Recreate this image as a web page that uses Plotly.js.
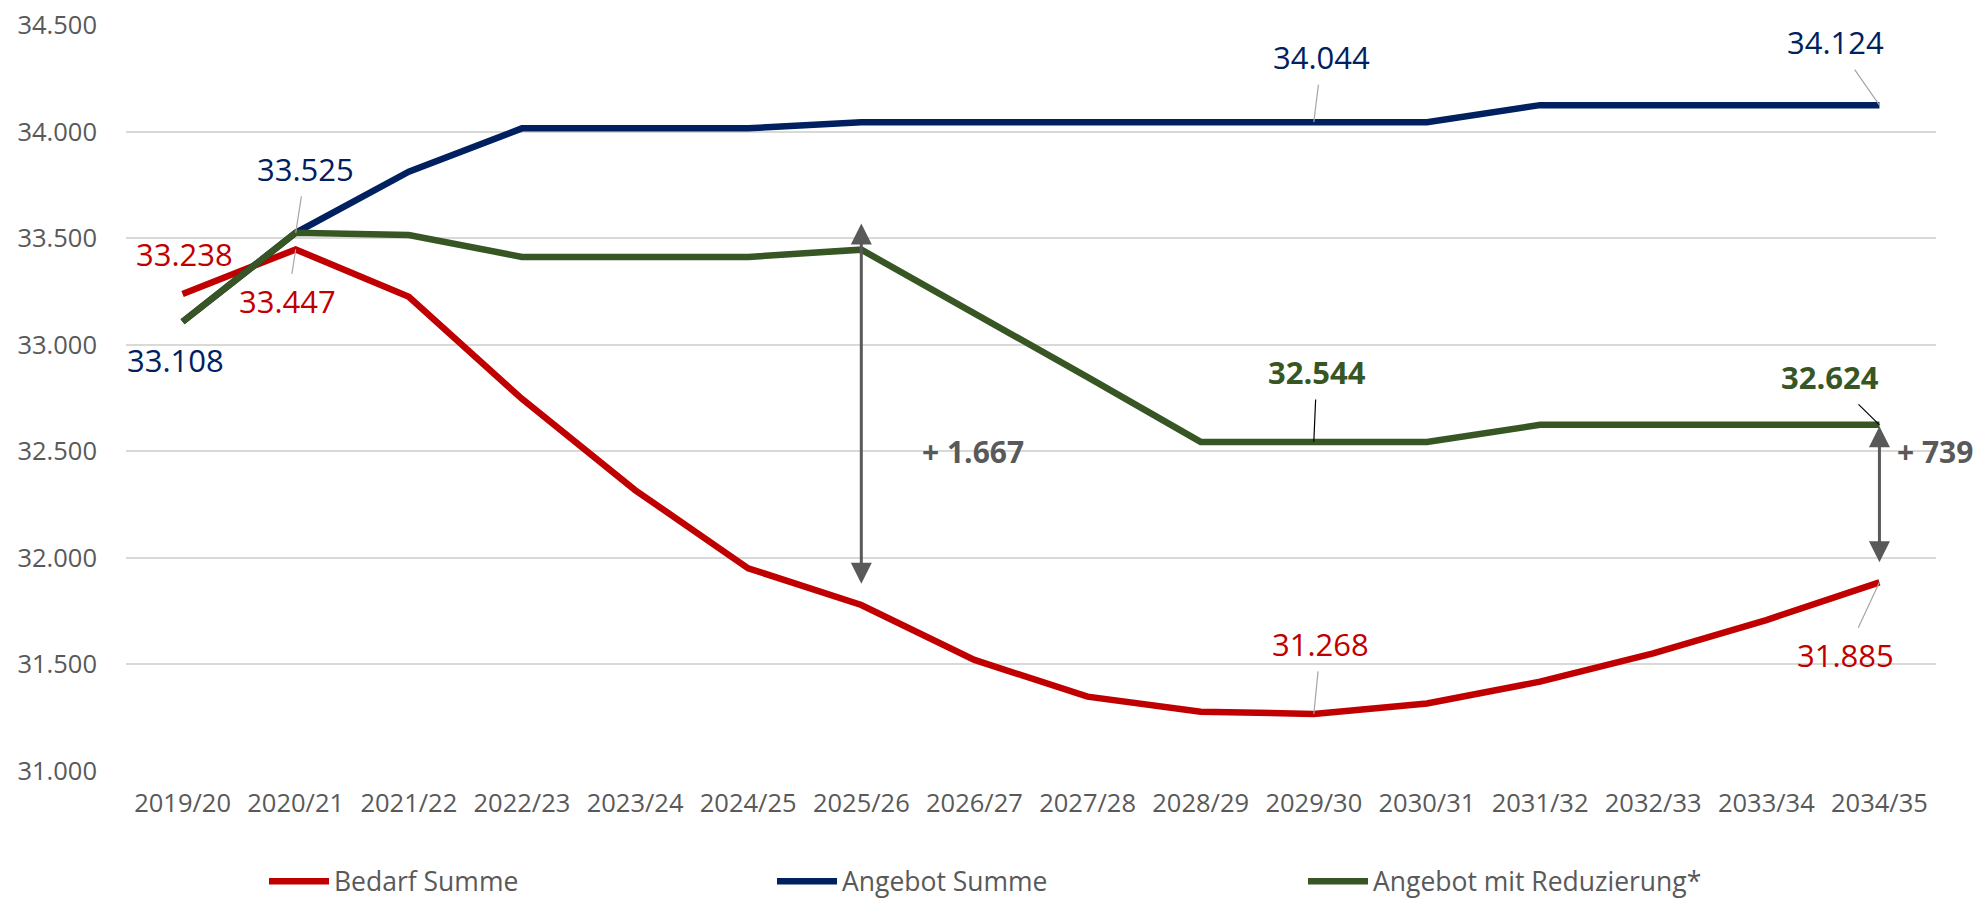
<!DOCTYPE html>
<html>
<head>
<meta charset="utf-8">
<script src="https://cdn.plot.ly/plotly-3.0.1.min.js"></script>
<style>
  html, body { margin: 0; padding: 0; background: #fff; }
  #chart { width: 1979px; height: 901px; }
</style>
</head>
<body>
<div id="chart"></div>
<script>
// school years on the x axis
var years = ['2019/20', '2020/21', '2021/22', '2022/23', '2023/24', '2024/25', '2025/26', '2026/27',
             '2027/28', '2028/29', '2029/30', '2030/31', '2031/32', '2032/33', '2033/34', '2034/35'];

// values (labelled points are exact)
var bedarf = [33238, 33447, 33225, 32746, 32318, 31951, 31779, 31521,
              31349, 31278, 31268, 31317, 31419, 31552, 31708, 31885];
var angebot = [33108, 33525, 33812, 34015, 34015, 34015, 34044, 34044,
               34044, 34044, 34044, 34044, 34124, 34124, 34124, 34124];
var reduziert = [33108, 33525, 33515, 33412, 33412, 33412, 33446, 33150,
                 32848, 32544, 32544, 32544, 32624, 32624, 32624, 32624];

var seriesNames = ['Bedarf Summe', 'Angebot Summe', 'Angebot mit Reduzierung*'];
var colors = ['#C00000', '#002060', '#375623'];
var yTicks = [31000, 31500, 32000, 32500, 33000, 33500, 34000, 34500];

var FONT = 'Open Sans, Liberation Sans, sans-serif';
var GREY = '#595959';

// german thousands separator
function fmt(v) {
    return String(v).replace(/\B(?=(\d{3})+(?!\d))/g, '.');
}

var allSeries = [bedarf, angebot, reduziert];
var data = allSeries.map(function (s, k) {
    return {
        x: years,
        y: s,
        name: seriesNames[k],
        type: 'scatter',
        mode: 'lines',
        line: {color: colors[k], width: 6.5},
        legend: k === 0 ? 'legend' : 'legend' + (k + 1),
        hoverinfo: 'x+y'
    };
});

// label with a thin leader line back to the point
function leader(series, i, color, ax, ay, lineColor, bold) {
    return {
        x: years[i], y: series[i], xref: 'x', yref: 'y',
        text: bold ? '<b>' + fmt(series[i]) + '</b>' : fmt(series[i]),
        showarrow: true, arrowhead: 0, arrowwidth: 1.2,
        arrowcolor: lineColor, ax: ax, ay: ay, standoff: 0, borderpad: 6,
        font: {family: FONT, size: 31, color: color}
    };
}

// plain label sitting next to the point
function plain(series, i, color, dx, dy) {
    return {
        x: years[i], y: series[i], xref: 'x', yref: 'y',
        text: fmt(series[i]), showarrow: false, xshift: dx, yshift: dy,
        font: {family: FONT, size: 31, color: color}
    };
}

var annotations = [
    plain(bedarf, 0, colors[0], 2, 40),
    plain(angebot, 0, colors[1], -7, -38),
    leader(angebot, 1, colors[1], 10, -64, '#A6A6A6'),
    leader(bedarf, 1, colors[0], -8, 52, '#A6A6A6'),
    leader(angebot, 10, colors[1], 8, -65, '#A6A6A6'),
    leader(angebot, 15, colors[1], -44, -63, '#A6A6A6'),
    leader(reduziert, 10, colors[2], 3, -70, '#000000', true),
    leader(reduziert, 15, colors[2], -49, -48, '#000000', true),
    leader(bedarf, 10, colors[0], 7, -70, '#A6A6A6'),
    leader(bedarf, 15, colors[0], -34, 73, '#A6A6A6'),

    // gap arrows
    {
        x: years[6], y: bedarf[6] + 100, ax: years[6], ay: reduziert[6] + 130,
        xref: 'x', yref: 'y', axref: 'x', ayref: 'y', text: '',
        showarrow: true, arrowside: 'end+start', arrowhead: 2, arrowsize: 1.4,
        arrowwidth: 3, arrowcolor: GREY
    },
    {
        x: years[15], y: bedarf[15], ax: years[15], ay: reduziert[15],
        xref: 'x', yref: 'y', axref: 'x', ayref: 'y', text: '',
        showarrow: true, arrowside: 'end+start', arrowhead: 2, arrowsize: 1.4,
        arrowwidth: 3, arrowcolor: GREY, standoff: 20
    },
    {
        x: years[6], y: 32500, xref: 'x', yref: 'y', xanchor: 'center',
        xshift: 112, showarrow: false,
        text: '<b>+ ' + fmt(reduziert[6] - bedarf[6]) + '</b>',
        font: {family: FONT, size: 30, color: GREY}
    },
    {
        x: years[15], y: 32500, xref: 'x', yref: 'y', xanchor: 'left',
        xshift: 16, showarrow: false,
        text: '<b>+ ' + fmt(reduziert[15] - bedarf[15]) + '</b>',
        font: {family: FONT, size: 30, color: GREY}
    }
];

function legendAt(xpx) {
    return {
        orientation: 'h', x: (xpx - 126) / 1810, xanchor: 'left',
        y: -0.148, yanchor: 'middle', itemwidth: 60,
        font: {family: FONT, size: 26.5, color: GREY},
        bgcolor: 'rgba(0,0,0,0)'
    };
}

var layout = {
    width: 1979,
    height: 901,
    margin: {l: 126, r: 43, t: 25, b: 130, autoexpand: false},
    separators: ',.',
    paper_bgcolor: '#ffffff',
    plot_bgcolor: '#ffffff',
    showlegend: true,
    legend: legendAt(264),
    legend2: legendAt(772),
    legend3: legendAt(1303),
    xaxis: {
        type: 'category',
        range: [-0.5, 15.5],
        showgrid: false,
        showline: false,
        zeroline: false,
        ticks: '',
        ticklabelstandoff: 14,
        tickfont: {family: FONT, size: 25.5, color: GREY}
    },
    yaxis: {
        range: [31000, 34500],
        tickvals: yTicks,
        ticktext: yTicks.map(fmt),
        showgrid: true,
        gridcolor: '#D9D9D9',
        gridwidth: 2,
        zeroline: false,
        showline: false,
        ticks: '',
        ticklabelstandoff: 28,
        tickfont: {family: FONT, size: 25.5, color: GREY}
    },
    annotations: annotations
};

Plotly.newPlot('chart', data, layout, {displayModeBar: false, staticPlot: true});
</script>
</body>
</html>
